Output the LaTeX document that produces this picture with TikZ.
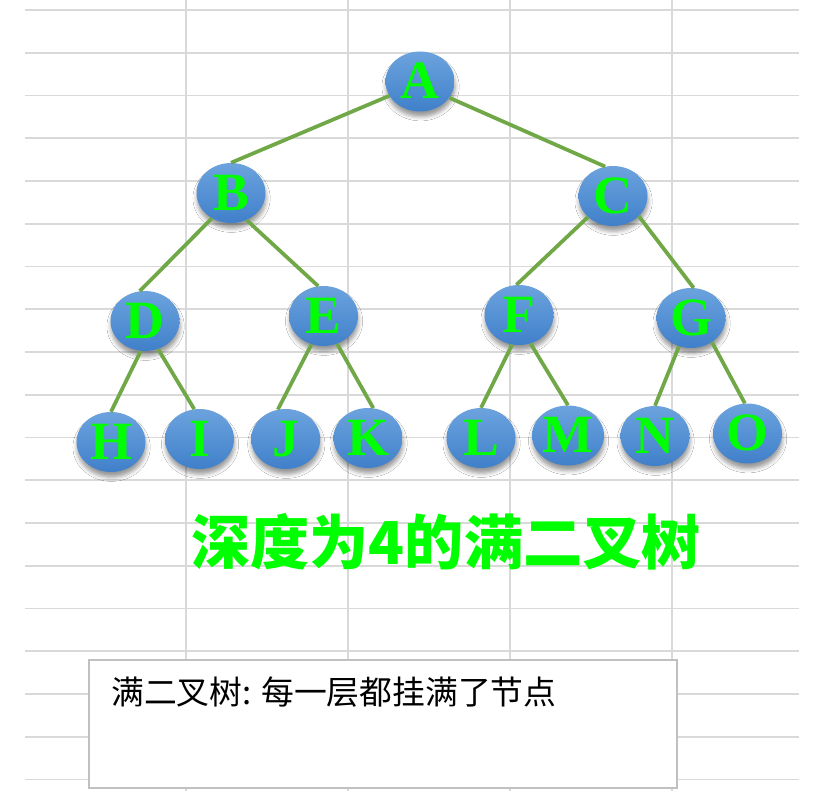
\documentclass[tikz,border=0pt]{standalone}
\usepackage{fontspec}
\setmainfont{Liberation Serif}
\newfontfamily\cjkfont{Noto Sans CJK SC}
\usetikzlibrary{shapes.geometric, shadows.blur}

\definecolor{gridgray}{RGB}{217,217,217}
\definecolor{nodetop}{RGB}{108,163,222}
\definecolor{nodebottom}{RGB}{64,128,202}
\definecolor{edgegreen}{RGB}{112,168,72}
\definecolor{lettergreen}{RGB}{0,255,0}
\definecolor{boxgray}{RGB}{192,192,192}

\begin{document}
\begin{tikzpicture}[
    x=0.03cm, y=-0.03cm,
    % Sheet grid lines
    gridline/.style={
        draw=gridgray,
        line width=1.6pt
    },
    % Tree node
    treenode/.style={
        ellipse,
        minimum width=2.07cm,
        minimum height=1.8cm,
        inner sep=0pt,
        top color=nodetop,
        bottom color=nodebottom,
        blur shadow={shadow xshift=0.5pt, shadow yshift=-4.5pt, shadow opacity=40, shadow blur radius=3.5pt},
        text=lettergreen,
        text height=29.7pt,
        text depth=0pt,
        font=\fontsize{46}{46}\selectfont\bfseries
    },
    % Branch between nodes
    branch/.style={
        draw=edgegreen,
        line width=3.2pt
    },
    % Caption box
    notebox/.style={
        rectangle,
        draw=boxgray,
        fill=white,
        line width=1.4pt,
        minimum width=17.64cm,
        minimum height=3.84cm
    }
]

\useasboundingbox (0,0) rectangle (834,812);
\fill[white] (0,0) rectangle (834,812);

% === Sheet grid ===
\foreach \gy in {0,...,18}
    \draw[gridline] (25, {10+42.75*\gy}) -- (799, {10+42.75*\gy});
\foreach \gx in {186, 348, 510, 672}
    \draw[gridline] (\gx, 0) -- (\gx, 791);

% === Level 1 ===
\node[treenode] (A) at (420, 81.5) {A};

% === Level 2 ===
\node[treenode] (B) at (231, 193) {B};
\node[treenode] (C) at (613, 196) {C};

% === Level 3 ===
\node[treenode] (D) at (145, 321) {D};
\node[treenode] (E) at (323.5, 316) {E};
\node[treenode] (F) at (519, 315) {F};
\node[treenode] (G) at (691, 318) {G};

% === Level 4 ===
\node[treenode] (H) at (111, 442) {H};
\node[treenode] (I) at (199.5, 439) {I};
\node[treenode] (J) at (285.7, 439) {J};
\node[treenode] (K) at (368, 438) {K};
\node[treenode] (L) at (481, 438) {L};
\node[treenode] (M) at (568, 435.5) {M};
\node[treenode] (N) at (655, 436) {N};
\node[treenode] (O) at (747.5, 433.5) {O};

% === Branches ===
\draw[branch] (A.205) -- (B.north);
\draw[branch] (A.331) -- (C.105);

\draw[branch] (B.233) -- (D.100);
\draw[branch] (B.300) -- (E.100);
\draw[branch] (C.220) -- (F.95);
\draw[branch] (C.322) -- (G.85);

\draw[branch] (D.262) -- (H.north);
\draw[branch] (D.295) -- (I.100);
\draw[branch] (E.247) -- (J.105);
\draw[branch] (E.296) -- (K.80);
\draw[branch] (F.257) -- (L.north);
\draw[branch] (F.292) -- (M.north);
\draw[branch] (G.247) -- (N.north);
\draw[branch] (G.311) -- (O.95);

% === Title ===
\node[font=\cjkfont\bfseries\fontsize{50.5}{50.5}\selectfont, text=lettergreen, inner sep=0pt, anchor=base]
    (title) at (446, 564) {深度为4的满二叉树};

% === Caption box ===
\node[notebox] (note) at (383, 724) {};
\node[font=\cjkfont\fontsize{28}{28}\selectfont, inner sep=0pt, anchor=base west]
    (notetext) at (111, 704.4) {满二叉树: 每一层都挂满了节点};

\end{tikzpicture}
\end{document}
